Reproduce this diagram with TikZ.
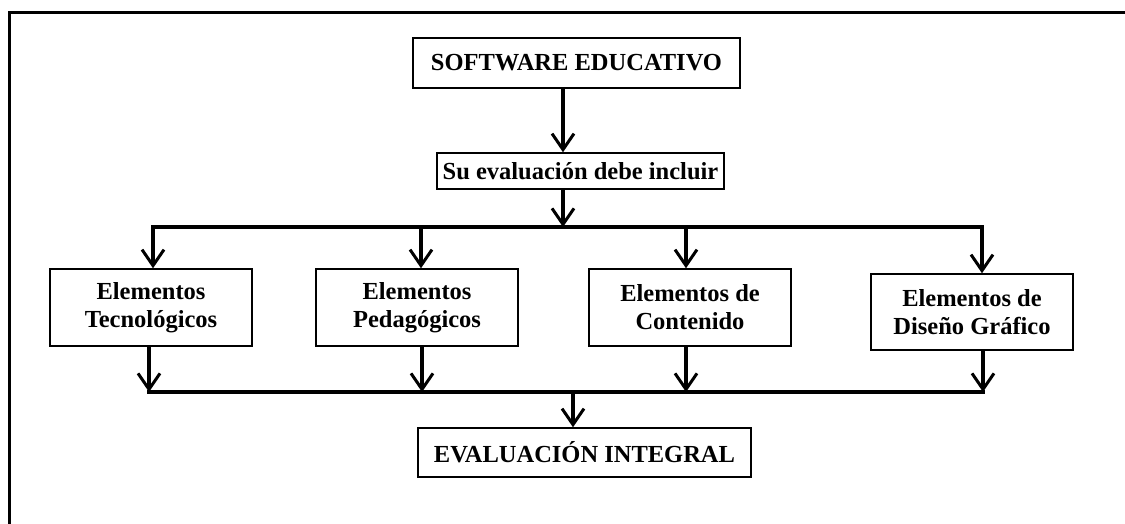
\documentclass[tikz,border=0pt]{standalone}
\usepackage{fontspec}
\setmainfont{Liberation Serif}
\usetikzlibrary{arrows.meta}
\begin{document}
\begin{tikzpicture}[x=1pt,y=-1pt,
  box/.style={draw,line width=1.5pt,align=center,inner sep=0pt,
    font=\bfseries\fontsize{24.5}{28}\selectfont},
  conn/.style={line width=3.5pt},
  arr/.style={line width=3.5pt,-{Straight Barb[length=16pt,width=22pt,line width=3pt]}}]
\useasboundingbox (0,0) rectangle (1125,524);
\clip (0,0) rectangle (1125,524);
\fill[white] (0,0) rectangle (1125,524);
\draw[line width=3pt] (9,13) rectangle (1160,560);
% boxes
\node[box,minimum width=327pt,minimum height=50pt] (sw) at (576.5,63) {SOFTWARE EDUCATIVO};
\node[box,minimum width=287pt,minimum height=36pt] (su) at (580.5,171) {Su evaluación debe incluir};
\node[box,minimum width=202pt,minimum height=77pt] (b1) at (151,307.5) {Elementos\\Tecnológicos};
\node[box,minimum width=202pt,minimum height=77pt] (b2) at (417,307.5) {Elementos\\Pedagógicos};
\node[box,minimum width=202pt,minimum height=77pt] (b3) at (690,307.5) {Elementos de\\Contenido};
\node[box,minimum width=202pt,minimum height=76pt] (b4) at (972,312) {Elementos de\\Diseño Gráfico};
\node[box,minimum width=333pt,minimum height=49pt] (ev) at (584.5,452.5) {EVALUACIÓN INTEGRAL};
% bus coordinates
\coordinate (tm) at (563,227);
\coordinate (t1) at (153,227);
\coordinate (t2) at (421,227);
\coordinate (t3) at (686,227);
\coordinate (t4) at (982,227);
\coordinate (d1) at (149,392);
\coordinate (d2) at (422,392);
\coordinate (d3) at (686,392);
\coordinate (d4) at (983,392);
\coordinate (dm) at (573,392);
% connectors
\draw[arr] (sw.south -| tm) -- (su.north -| tm);
\draw[arr] (su.south -| tm) -- (tm);
\draw[conn] ([xshift=-1.75pt]t1) -- ([xshift=1.75pt]t4);
\draw[arr] (t1) -- (t1 |- b1.north);
\draw[arr] (t2) -- (t2 |- b2.north);
\draw[arr] (t3) -- (t3 |- b3.north);
\draw[arr] (t4) -- (t4 |- b4.north);
\draw[arr] (b1.south -| d1) -- (d1);
\draw[arr] (b2.south -| d2) -- (d2);
\draw[arr] (b3.south -| d3) -- (d3);
\draw[arr] (b4.south -| d4) -- (d4);
\draw[conn] ([xshift=-1.75pt]d1) -- ([xshift=1.75pt]d4);
\draw[arr] (dm) -- (dm |- ev.north);
\end{tikzpicture}
\end{document}
